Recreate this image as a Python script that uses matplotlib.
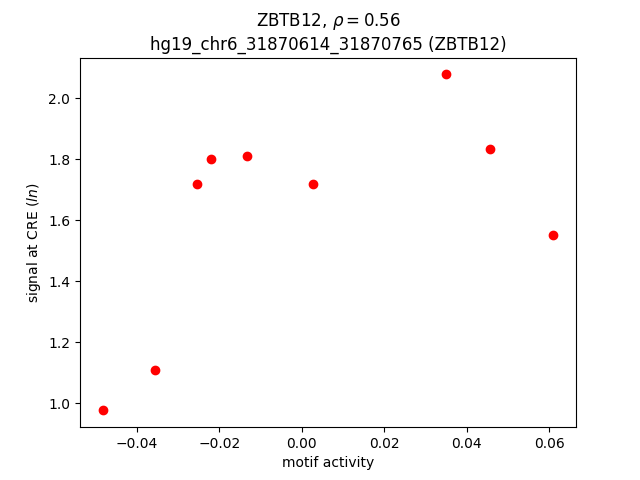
import matplotlib
matplotlib.use('Agg')
import matplotlib.pyplot as plt

motif_activity = [-0.0483, -0.0355, -0.0255, -0.0221, -0.0134, 0.0026, 0.0349, 0.0456, 0.0610]
cre_signal = [0.977, 1.111, 1.718, 1.800, 1.813, 1.721, 2.079, 1.833, 1.551]

fig, ax = plt.subplots(figsize=(6.4, 4.8), dpi=100)
ax.scatter(motif_activity, cre_signal, color='red', s=36)
ax.set_title('ZBTB12, $\\rho = 0.56$\nhg19_chr6_31870614_31870765 (ZBTB12)')
ax.set_xlabel('motif activity')
ax.set_ylabel('signal at CRE ($ln$)')
fig.savefig('out.png')
